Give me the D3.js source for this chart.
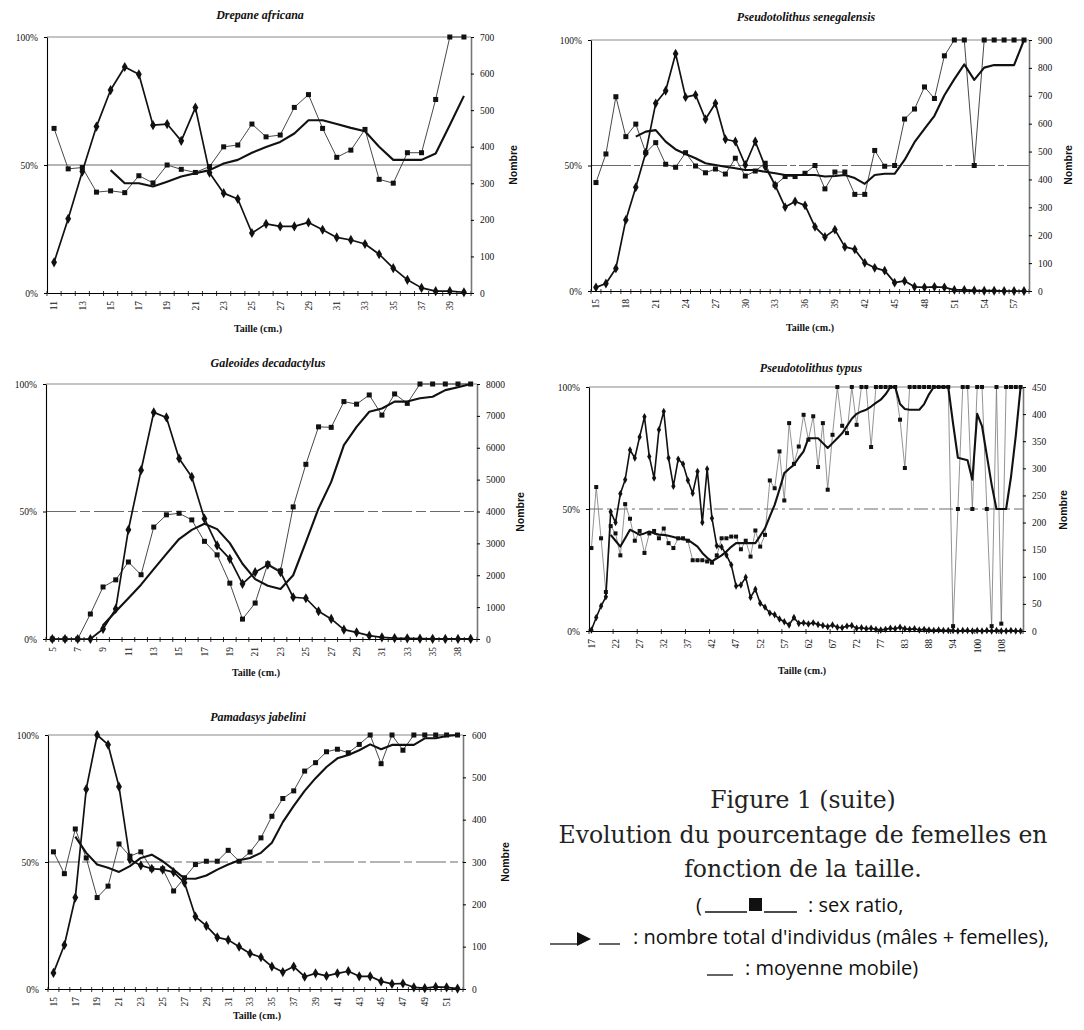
<!DOCTYPE html>
<html><head><meta charset="utf-8">
<script src="https://cdn.jsdelivr.net/npm/d3@7"></script>
<style>body{margin:0;background:#fff} svg{display:block}</style>
</head><body>
<svg id="fig" width="1084" height="1030"></svg>
<script>
// ---------------- DATA ----------------
// Drepane africana
const drepaneTailles = [11,12,13,14,15,16,17,18,19,20,21,22,23,24,25,26,27,28,29,30,31,32,33,34,35,36,37,38,39,40];
const drepaneSexRatio = [64.3,48.5,49,39.4,39.9,39.2,45.8,43,50,48.3,47.1,49.4,57.1,57.8,66,61,61.7,72.5,77.5,64.3,53,55.8,63.9,44.4,42.9,54.8,54.8,75.6,100,100];
const drepaneNombre = [84,203,332,455,555,618,598,459,462,416,507,329,273,257,164,189,182,182,193,173,152,145,134,106,68,36,14,5,5,2];
const drepaneMoyenne = [null,null,null,null,48,42.9,42.9,41.6,43.5,45.5,46.8,48,50.6,52,54.8,57,59,62.3,67.5,67.5,66,64.5,63.2,57.1,52,52,52,54.5,65.6,77];
const drepaneNombreTicks = [0,100,200,300,400,500,600,700];

// Pseudotolithus senegalensis
const senegTailles = [15,16,17,18,19,20,21,22,23,24,25,26,27,28,29,30,31,32,33,34,35,36,37,38,39,40,41,42,43,44,45,46,47,48,49,50,51,52,53,54,55,56,57,58];
const senegSexRatio = [43.2,54.6,77.4,61.5,66.5,55.1,59.1,50.5,49.3,55.1,49.8,47.1,48.6,46.6,52.9,45.8,47.8,50.9,42.2,45.6,45.6,46.9,50,40.7,47.4,47.4,38.5,38.5,56,49.7,50,68.5,72.5,81.3,76.7,93.7,100,100,50,100,100,100,100,100];
const senegNombre = [13,27,81,255,372,496,673,718,851,695,703,616,673,544,536,452,536,446,379,301,321,307,230,194,220,158,149,101,83,73,30,36,15,13,15,13,4,4,2,1,1,0,0,0];
const senegMoyenne = [null,null,null,null,61.5,63.5,64.1,59.5,56.4,54.6,52.9,50.9,50.2,49.5,48.9,48.2,48.2,47.5,46.9,46.2,46.2,46.2,46.2,45.6,45.8,46.2,45,42.7,46.2,46.7,46.7,52.2,59.3,64.6,69.8,78,84.4,90.3,84.1,89,90,90,90,100];
const senegNombreTicks = [0,100,200,300,400,500,600,700,800,900];

// Galeoides decadactylus
const galeoTailles = [5,6,7,8,9,10,11,12,13,14,15,16,17,18,19,20,21,22,23,24,25,26,27,28,29,30,31,32,33,34,35,36,38,39];
const galeoSexRatio = [0,0,0,9.8,20.4,23.2,30.2,25.2,43.9,48.7,49.3,46.7,38.3,33,21.9,7.8,14.1,29.5,26.7,51.8,68.5,83.2,83,93.1,92.1,95.7,87.8,96.1,92.4,100,100,100,100,100];
const galeoNombre = [0,0,0,0,315,944,3428,5295,7109,6951,5662,5085,3775,2936,2516,1730,2097,2330,2097,1310,1279,870,629,294,210,105,52,30,20,10,5,3,2,1];
const galeoMoyenne = [null,null,null,null,5.4,10.8,16,21.3,27.4,33.4,39.2,42.8,45.2,43.1,37.6,29.5,23.5,20.9,19.6,25,38,51.2,61.6,76,83.2,89.1,90.4,93.1,93.1,94.4,95,97.6,98.7,100];
const galeoNombreTicks = [0,1000,2000,3000,4000,5000,6000,7000,8000];

// Pseudotolithus typus
const typusTailles = [17,18,19,20,21,22,23,24,25,26,27,28,29,30,31,32,33,34,35,36,37,38,39,40,41,42,43,44,45,46,47,48,49,50,51,52,53,54,55,56,57,58,59,60,61,62,63,64,65,66,67,68,69,70,71,72,73,74,75,76,77,78,79,80,81,83,84,85,86,87,88,89,90,92,93,94,95,96,97,99,100,101,103,105,106,108,109,110,112,115];
const typusSexRatio = [34,59,38,16,43,40,31,52,46,37,41,32,40,41,38,42,36,34,38,38,37,29,29,29,28.5,28,31,38,38,38.7,38.7,33.5,37,30.5,41.2,34.6,39.4,61.7,58.5,73.6,53.5,85.2,68.5,75.6,88.6,78.4,88,67.2,85.2,57.9,80.4,100,84.1,81.1,100,84.5,100,100,75.4,100,100,100,100,100,86.6,66.8,100,100,100,100,100,100,100,100,100,2,50,100,100,50,100,100,50,2,100,3,100,100,100,100];
const typusNombre = [2,25,46,63,220,200,253,279,334,319,358,395,322,282,371,405,319,267,317,308,278,254,294,200,299,208,157,155,140,122,83,85,99,62,77,51,44,33,30,22,17,11,25,14,15,13,15,12,10,8,11,7,6,9,10,5,6,4,5,3,2,3,5,4,7,4,3,4,2,3,2,1,2,1,1,1,0,1,1,0,1,0,1,0,1,0,0,1,0,0];
const typusMoyenne = [null,null,null,null,39.4,37,34.6,38,41.5,40.5,39.4,40,40.8,40,39.5,39.4,39,38.5,38,37.6,37.3,36,34.6,32,30,28.5,29.8,31,32.6,34.5,36,36,36,36,36,39,42.1,47,51.7,58,64.7,66.5,68.1,71,73.6,79,79,79,77,75,77,79,81,84,87,89,90,90.7,92,93.5,94.8,97,100,100,93,91,90.7,90.7,90.7,93,97,100,100,100,100,85,71,70.5,70,62,89,84,72,60,50,50,50,63,80,100];
const typusNombreTicks = [0,50,100,150,200,250,300,350,400,450];

// Pamadasys jabelini
const pamaTailles = [15,16,17,18,19,20,21,22,23,24,25,26,27,28,29,30,31,32,33,34,35,36,37,38,39,40,41,42,43,44,45,46,47,48,49,50,51,52];
const pamaSexRatio = [54,45.4,63,51.6,36,40.5,57.1,52.3,54,47.3,47.3,38.6,43.8,49,50.3,50.3,54.6,50.3,53.9,59.5,68,75,78,85.8,89.1,93.4,94.4,93,96.3,100,88.7,100,94,100,100,100,100,100];
const pamaNombre = [38,104,216,472,600,577,478,306,292,284,282,276,251,171,149,122,116,100,84,75,53,40,53,29,37,31,37,42,30,30,18,12,13,4,2,5,4,1];
const pamaMoyenne = [null,null,60,53.6,49,47.7,46.1,48.4,51.6,52.9,50.3,47,43.5,43.4,44.7,47,49,50.7,51.6,53.6,57.6,65.7,72.1,78,83,87.4,90.8,92.1,94,96.3,94.4,96.1,96.1,96.1,98.7,98.7,99.6,100];
const pamaNombreTicks = [0,100,200,300,400,500,600];

const pctTicks = [0,50,100];

// ---------------- LAYOUT ----------------
const panels = [
  {title:"Drepane africana", cats:drepaneTailles, sr:drepaneSexRatio, nb:drepaneNombre, mm:drepaneMoyenne, nTicks:drepaneNombreTicks,
   box:{l:47,r:471,t:37,b:293}, labelEvery:2, tickEvery:1, titlePos:[260,19], xlabPos:[258,332], nomPos:[513,165], refDash:null, mk:5, dia:30},
  {title:"Pseudotolithus senegalensis", cats:senegTailles, sr:senegSexRatio, nb:senegNombre, mm:senegMoyenne, nTicks:senegNombreTicks,
   box:{l:591,r:1029,t:40,b:291}, labelEvery:3, tickEvery:1, titlePos:[806,21], xlabPos:[810,331], nomPos:[1068,165], refDash:"40,3,6,3", mk:5, dia:28},
  {title:"Galeoides decadactylus", cats:galeoTailles, sr:galeoSexRatio, nb:galeoNombre, mm:galeoMoyenne, nTicks:galeoNombreTicks,
   box:{l:46,r:477,t:384,b:639}, labelEvery:2, tickEvery:1, titlePos:[268,367], xlabPos:[256,676], nomPos:[520,512], refDash:"30,4,10,4", mk:5, dia:30},
  {title:"Pseudotolithus typus", cats:typusTailles, sr:typusSexRatio, nb:typusNombre, mm:typusMoyenne, nTicks:typusNombreTicks,
   box:{l:589,r:1023,t:387,b:631}, labelEvery:5, tickEvery:5, titlePos:[811,372], xlabPos:[802,674], nomPos:[1063,510], refDash:"14,4,3,4", mk:4, dia:16, thin:true},
  {title:"Pamadasys jabelini", cats:pamaTailles, sr:pamaSexRatio, nb:pamaNombre, mm:pamaMoyenne, nTicks:pamaNombreTicks,
   box:{l:48,r:463,t:735,b:989}, labelEvery:2, tickEvery:1, titlePos:[258,721], xlabPos:[257,1019], nomPos:[505,862], refDash:"30,4,8,4", mk:5, dia:30}
];

const svg = d3.select("#fig");
const serif = "'Liberation Serif','DejaVu Serif',serif";

function drawPanel(p) {
  const g = svg.append("g");
  const cats = p.cats.map(String);
  const x = d3.scaleBand().domain(cats).range([p.box.l, p.box.r]);
  const cx = c => x(String(c)) + x.bandwidth() / 2;
  const yP = d3.scaleLinear().domain([0, 100]).range([p.box.b, p.box.t]);
  const nMax = p.nTicks[p.nTicks.length - 1];
  const yN = d3.scaleLinear().domain([0, nMax]).range([p.box.b, p.box.t]);

  g.append("line").attr("x1", p.box.l).attr("x2", p.box.r)
    .attr("y1", yP(100)).attr("y2", yP(100))
    .attr("stroke", "#c4c4c4").attr("stroke-width", 2.2);
  const ref = g.append("line").attr("x1", p.box.l).attr("x2", p.box.r)
    .attr("y1", yP(50)).attr("y2", yP(50))
    .attr("stroke", "#444").attr("stroke-width", 0.8);
  if (p.refDash) ref.attr("stroke-dasharray", p.refDash);

  const xAxis = d3.axisBottom(x)
    .tickValues(cats.filter((c, i) => i % p.labelEvery === 0))
    .tickSize(0).tickSizeOuter(0);
  const gx = g.append("g").attr("transform", `translate(0,${p.box.b})`).call(xAxis);
  gx.select(".domain").attr("stroke", "#000").attr("stroke-width", 1);
  gx.selectAll("text")
    .attr("transform", "rotate(-90)").attr("x", -8).attr("y", 0).attr("dy", "0.35em")
    .style("text-anchor", "end").style("font-family", serif).style("font-size", "9.5px").attr("fill", "#111");
  const bounds = cats.filter((c, i) => i % p.tickEvery === 0).map(c => x(c)).concat([p.box.r]);
  g.append("g").selectAll("line").data(bounds).join("line")
    .attr("x1", d => d).attr("x2", d => d)
    .attr("y1", p.box.b - 2).attr("y2", p.box.b + 3)
    .attr("stroke", "#000").attr("stroke-width", 0.8);

  const gl = g.append("g").attr("transform", `translate(${p.box.l},0)`)
    .call(d3.axisLeft(yP).tickValues(pctTicks).tickFormat(d => d + "%").tickSize(3).tickSizeOuter(0).tickPadding(6));
  gl.select(".domain").attr("stroke", "#000").attr("stroke-width", 1.1);
  gl.selectAll("text").style("font-family", serif).style("font-size", "9.5px").attr("fill", "#111");

  const gr = g.append("g").attr("transform", `translate(${p.box.r},0)`)
    .call(d3.axisRight(yN).tickValues(p.nTicks).tickFormat(d3.format("d")).tickSize(3).tickSizeOuter(0).tickPadding(6));
  gr.select(".domain").attr("stroke", "#777").attr("stroke-width", 1.6);
  gr.selectAll("text").style("font-family", serif).style("font-size", "9.5px").attr("fill", "#111");

  const srData = p.cats.map((c, i) => ({c, v: p.sr[i]}));
  const nbData = p.cats.map((c, i) => ({c, v: p.nb[i]}));
  const mmData = p.cats.map((c, i) => ({c, v: p.mm[i]}));

  const lineP = d3.line().defined(d => d.v != null).x(d => cx(d.c)).y(d => yP(d.v));
  const lineN = d3.line().defined(d => d.v != null).x(d => cx(d.c)).y(d => yN(d.v));

  g.append("path").datum(srData).attr("d", lineP).attr("fill", "none")
    .attr("stroke", p.thin ? "#777" : "#333").attr("stroke-width", p.thin ? 0.8 : 0.9);
  g.append("path").datum(nbData).attr("d", lineN).attr("fill", "none")
    .attr("stroke", "#111").attr("stroke-width", p.thin ? 1.6 : 1.7).attr("stroke-linejoin", "round");
  g.append("path").datum(mmData).attr("d", lineP).attr("fill", "none")
    .attr("stroke", "#111").attr("stroke-width", 2.1).attr("stroke-linejoin", "round");

  g.append("g").selectAll("rect").data(srData).join("rect")
    .attr("x", d => cx(d.c) - p.mk / 2).attr("y", d => yP(d.v) - p.mk / 2)
    .attr("width", p.mk).attr("height", p.mk).attr("fill", "#111");
  const sym = d3.symbol().type(d3.symbolDiamond).size(p.dia);
  g.append("g").selectAll("path").data(nbData).join("path")
    .attr("transform", d => `translate(${cx(d.c)},${yN(d.v)})`)
    .attr("d", sym).attr("fill", "#111");

  g.append("text").attr("x", p.titlePos[0]).attr("y", p.titlePos[1])
    .attr("text-anchor", "middle").style("font-family", serif).style("font-size", "12px")
    .style("font-style", "italic").style("font-weight", "bold").attr("fill", "#111").text(p.title);
  g.append("text").attr("x", p.xlabPos[0]).attr("y", p.xlabPos[1])
    .attr("text-anchor", "middle").style("font-family", serif).style("font-size", "10px")
    .style("font-weight", "bold").attr("fill", "#111").text("Taille (cm.)");
  g.append("text").attr("transform", `translate(${p.nomPos[0]},${p.nomPos[1]}) rotate(-90)`)
    .attr("text-anchor", "middle").attr("dy", "0.35em")
    .style("font-family", "'Liberation Sans',Arial,sans-serif").style("font-size", "10.5px")
    .style("font-weight", "bold").attr("fill", "#111").text("Nombre");
}

panels.forEach(drawPanel);

// ---------------- CAPTION ----------------
const capLines = ["Figure 1 (suite)", "Evolution du pourcentage de femelles en", "fonction de la taille."];
const capY = [808, 843, 877];
const cap = svg.append("g").attr("fill", "#222");
cap.selectAll("text").data(capLines).join("text")
  .attr("x", 803).attr("y", (d, i) => capY[i]).attr("text-anchor", "middle")
  .style("font-family", "'DejaVu Serif',serif").style("font-size", "23.5px").text(d => d);

const lg = svg.append("g").attr("fill", "#111").attr("stroke", "none");
const sans = "'Open Sans',Lato,sans-serif";
const fs = "20px";
const ln = (x1, x2, y) => lg.append("line").attr("x1", x1).attr("x2", x2).attr("y1", y).attr("y2", y).attr("stroke", "#111").attr("stroke-width", 1.3);
// row 1
lg.append("text").attr("x", 696).attr("y", 912).style("font-family", sans).style("font-size", fs).text("(");
ln(705, 747, 912);
lg.append("rect").attr("x", 749).attr("y", 898).attr("width", 13).attr("height", 13);
ln(764, 797, 912);
lg.append("text").attr("x", 808).attr("y", 912).style("font-family", sans).style("font-size", fs).text(": sex ratio,");
// row 2
ln(550, 578, 944);
lg.append("path").attr("d", "M577,932 L591,939 L577,946 Z");
ln(599, 620, 944);
lg.append("text").attr("x", 633).attr("y", 944).style("font-family", sans).style("font-size", fs).text(": nombre total d'individus (mâles + femelles),");
// row 3
ln(707, 733, 975);
lg.append("text").attr("x", 745).attr("y", 975).style("font-family", sans).style("font-size", fs).text(": moyenne mobile)");
</script>
</body></html>
